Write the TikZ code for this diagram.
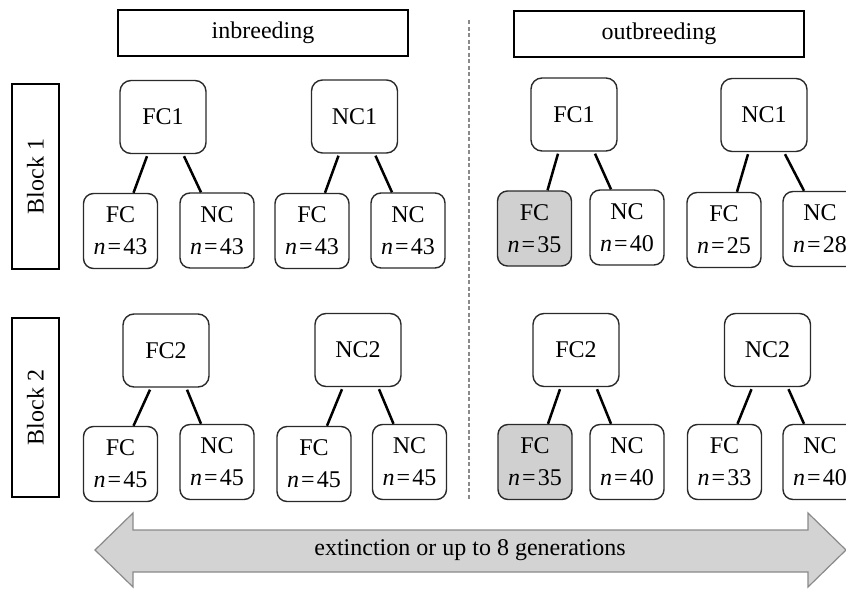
\documentclass[tikz,border=0pt]{standalone}
\usepackage{fontspec}
\setmainfont{Liberation Serif}
\usetikzlibrary{calc}
\definecolor{boxline}{HTML}{2A2A2A}
\definecolor{shade}{HTML}{D0D0D0}
\definecolor{arrowfill}{HTML}{D3D3D3}
\definecolor{arrowline}{HTML}{8A8A8A}
\tikzset{
  base/.style={font=\fontsize{24}{27}\selectfont, text=black},
  header/.style={base, draw=black, line width=1.4pt, minimum width=290pt, minimum height=46pt, inner sep=0pt},
  blockbox/.style={base, draw=black, line width=1.4pt, minimum height=47pt, inner sep=0pt, rotate=90},
  parent/.style={base, draw=boxline, line width=1.4pt, rounded corners=11pt, minimum width=86pt, minimum height=73pt, inner sep=0pt, fill=white},
  child/.style={base, draw=boxline, line width=1.4pt, rounded corners=10pt, minimum width=74pt, minimum height=75pt, inner sep=0pt, fill=white, align=center},
  shaded/.style={fill=shade},
  link/.style={line width=2.5pt, black},
}
\newcommand{\nval}[1]{\textit{n}\kern2pt=\kern2pt#1}
\begin{document}
\begin{tikzpicture}[x=1pt,y=-1pt]
\useasboundingbox (0,0) rectangle (846,589);
\clip (0,0) rectangle (846,589);

% headers
\node[header] (inb) at (263,33) {inbreeding};
\node[header] (outb) at (659,34) {outbreeding};

% block labels
\node[blockbox, minimum width=185pt] (b1) at (35.5,176.5) {Block 1};
\node[blockbox, minimum width=179pt] (b2) at (35.5,407.5) {Block 2};

% dashed divider
\coordinate (dtop) at (469,20);
\coordinate (dbot) at (469,500);
\draw[arrowline, line width=1.3pt, dash pattern=on 4pt off 2.5pt] (dtop) -- (dbot);

% ---- Block 1, inbreeding
\node[parent] (p11) at (163,117) {FC1};
\node[parent] (p12) at (354.5,116.5) {NC1};
\node[child] (c111) at (120.5,231) {FC\\[5pt]\nval{43}};
\node[child] (c112) at (217,230.5) {NC\\[5pt]\nval{43}};
\node[child] (c121) at (312,231) {FC\\[5pt]\nval{43}};
\node[child] (c122) at (408,230.5) {NC\\[5pt]\nval{43}};

% ---- Block 1, outbreeding
\node[parent] (p13) at (574,114.5) {FC1};
\node[parent] (p14) at (764,115) {NC1};
\node[child, shaded] (c131) at (534.5,228.5) {FC\\[5pt]\nval{35}};
\node[child] (c132) at (627,227.5) {NC\\[5pt]\nval{40}};
\node[child] (c141) at (724,230) {FC\\[5pt]\nval{25}};
\node[child] (c142) at (820,229) {NC\\[5pt]\nval{28}};

% ---- Block 2, inbreeding
\node[parent] (p21) at (166,350.5) {FC2};
\node[parent] (p22) at (358,350) {NC2};
\node[child] (c211) at (120.5,464) {FC\\[5pt]\nval{45}};
\node[child] (c212) at (217,462) {NC\\[5pt]\nval{45}};
\node[child] (c221) at (314,464) {FC\\[5pt]\nval{45}};
\node[child] (c222) at (409.5,462) {NC\\[5pt]\nval{45}};

% ---- Block 2, outbreeding
\node[parent] (p23) at (576,350) {FC2};
\node[parent] (p24) at (767.5,350) {NC2};
\node[child, shaded] (c231) at (535,462) {FC\\[5pt]\nval{35}};
\node[child] (c232) at (627,462) {NC\\[5pt]\nval{40}};
\node[child] (c241) at (724.5,462) {FC\\[5pt]\nval{33}};
\node[child] (c242) at (820,462) {NC\\[5pt]\nval{40}};

% links
\foreach \p/\a/\b in {p11/c111/c112, p12/c121/c122, p13/c131/c132, p14/c141/c142,
                      p21/c211/c212, p22/c221/c222, p23/c231/c232, p24/c241/c242}{
  \draw[link] ($(\p.south)+(-16,2)$) -- ($(\a.north)+(13,0)$);
  \draw[link] ($(\p.south)+(21,2)$) -- ($(\b.north)+(-16,0)$);
}

% double arrow
\coordinate (aleft) at (95,550);
\coordinate (aright) at (846,550);
\draw[arrowline, fill=arrowfill, line width=1.2pt, line join=miter]
  (aleft) -- (133,513) -- (133,530) -- (808,530) -- (808,513) -- (aright)
  -- (808,587) -- (808,572) -- (133,572) -- (133,587) -- cycle;
\node[base] (gen) at (470,550) {extinction or up to 8 generations};
\end{tikzpicture}
\end{document}
